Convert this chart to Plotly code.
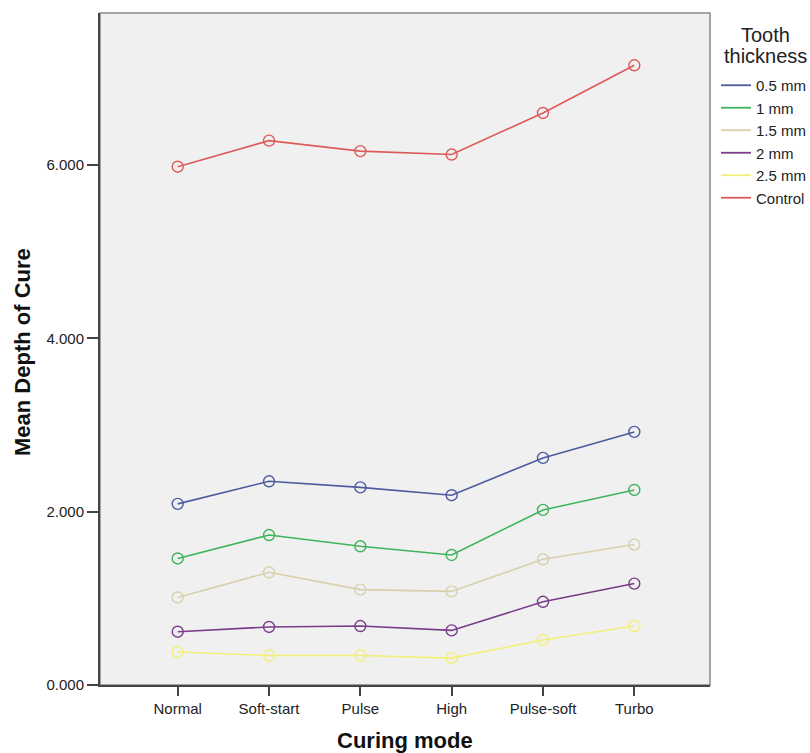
import plotly.graph_objects as go

modes = ["Normal", "Soft-start", "Pulse", "High", "Pulse-soft", "Turbo"]
series_names = ["0.5 mm", "1 mm", "1.5 mm", "2 mm", "2.5 mm", "Control"]
v_05 = [2.09, 2.35, 2.28, 2.19, 2.62, 2.92]
v_1 = [1.46, 1.73, 1.60, 1.50, 2.02, 2.25]
v_15 = [1.01, 1.30, 1.10, 1.08, 1.45, 1.62]
v_2 = [0.615, 0.67, 0.68, 0.63, 0.96, 1.17]
v_25 = [0.38, 0.34, 0.34, 0.31, 0.52, 0.68]
v_ctrl = [5.98, 6.28, 6.16, 6.12, 6.60, 7.15]
series_values = [v_05, v_1, v_15, v_2, v_25, v_ctrl]
colors = ["#4d5b9e", "#3fb35c", "#d8d0ac", "#7a3c89", "#f2ef78", "#dd5a5a"]
y_ticks = [0, 2, 4, 6]

FONT = "Liberation Sans, Arial, sans-serif"

fig = go.Figure()
for name, vals, col in zip(series_names, series_values, colors):
    fig.add_trace(go.Scatter(
        x=list(range(len(modes))), y=vals, name=name, mode="lines+markers",
        line=dict(color=col, width=1.6), showlegend=False, legendgroup=name,
        marker=dict(symbol="circle-open", size=11, color=col, line=dict(width=1.4, color=col)),
    ))
# legend entries show line only
for name, col in zip(series_names, colors):
    fig.add_trace(go.Scatter(
        x=[None], y=[None], name=name, mode="lines", legendgroup=name,
        line=dict(color=col, width=1.8), showlegend=True,
    ))

fig.update_layout(
    width=810, height=753,
    margin=dict(l=100, r=100, t=13, b=68, autoexpand=False),
    paper_bgcolor="white", plot_bgcolor="#f0f0f0",
    font=dict(family=FONT, size=14, color="#222"),
    showlegend=True,
    legend=dict(
        xref="container", yref="container",
        x=716 / 810, y=1 - 69 / 753, xanchor="left", yanchor="top",
        font=dict(size=15, color="#222"),
        itemwidth=30, tracegroupgap=0, bgcolor="rgba(0,0,0,0)",
    ),
)
fig.update_xaxes(
    range=[-0.851, 5.829], tickmode="array", tickvals=list(range(len(modes))), ticktext=modes,
    showgrid=False, zeroline=False, showline=True, linecolor="#444", linewidth=2,
    ticks="outside", ticklen=9, tickwidth=2, tickcolor="#444",
    tickfont=dict(size=15, color="#222"), automargin=False,
)
fig.update_yaxes(
    range=[0, 7.753], tickmode="array", tickvals=y_ticks, tickformat=".3f",
    showgrid=False, zeroline=False, showline=True, linecolor="#444", linewidth=2,
    ticks="outside", ticklen=11, tickwidth=2, tickcolor="#444",
    tickfont=dict(size=15, color="#222"), automargin=False,
)
fig.add_shape(type="rect", xref="paper", yref="paper", x0=0, y0=0, x1=1, y1=1,
              line=dict(color="#888", width=1.5), layer="below")

# axis titles
fig.add_annotation(text="<b>Curing mode</b>", xref="paper", yref="paper", x=0.5, y=-(740 - 685) / 672,
                   xanchor="center", yanchor="middle", showarrow=False,
                   font=dict(size=22, color="#111"))
fig.add_annotation(text="<b>Mean Depth of Cure</b>", xref="paper", yref="paper",
                   x=-(100 - 22) / 610, y=(685 - 352) / 672, textangle=-90,
                   xanchor="center", yanchor="middle", showarrow=False,
                   font=dict(size=22, color="#111"))
# legend title
fig.add_annotation(text="Tooth", xref="paper", yref="paper", x=(765 - 100) / 610, y=(685 - 35) / 672,
                   xanchor="center", yanchor="middle", showarrow=False, font=dict(size=20, color="#222"))
fig.add_annotation(text="thickness", xref="paper", yref="paper", x=(765 - 100) / 610, y=(685 - 56) / 672,
                   xanchor="center", yanchor="middle", showarrow=False, font=dict(size=20, color="#222"))

fig.write_html("out.html", config={"displayModeBar": False},
               post_script="document.body.style.margin='0';document.body.style.overflow='hidden';")
